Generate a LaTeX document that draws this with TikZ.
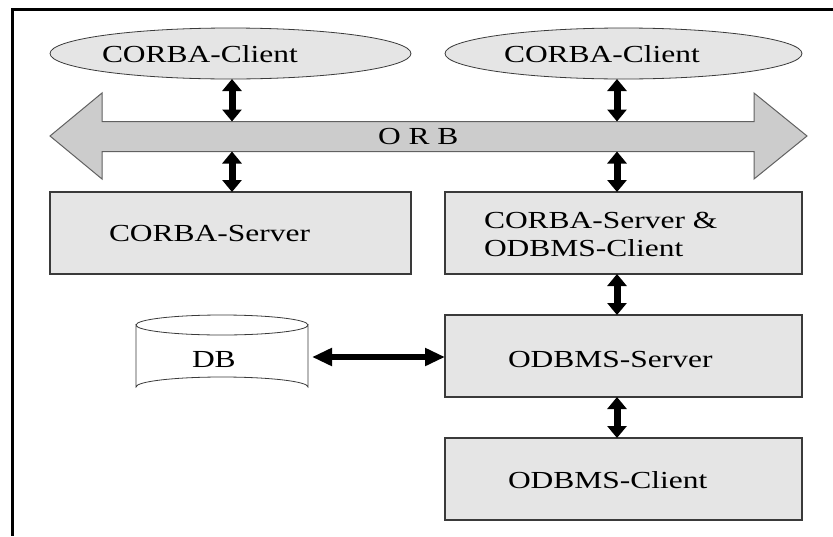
\documentclass[tikz,border=0pt]{standalone}
\usepackage{fontspec}
\setmainfont{Liberation Serif}[FakeStretch=1.285]
\usetikzlibrary{arrows.meta,shapes.geometric}
\definecolor{boxfill}{HTML}{E5E5E5}
\definecolor{orbfill}{HTML}{CCCCCC}
\definecolor{edge}{HTML}{3A3A3A}
\begin{document}
\begin{tikzpicture}[x=1pt,y=-1pt,
  every node/.style={inner sep=0pt,outer sep=0pt},
  txt/.style={anchor=base west,font=\fontsize{24.5pt}{28pt}\selectfont},
  compbox/.style={draw=edge,fill=boxfill,line width=1.3pt,rectangle},
  client/.style={draw=edge,fill=boxfill,line width=0.8pt,ellipse},
  vlink/.style={line width=7pt,{Triangle[length=12pt,width=19pt]}-{Triangle[length=12pt,width=19pt]}},
  hlink/.style={line width=6pt,{Triangle[length=20pt,width=17pt]}-{Triangle[length=20pt,width=17pt]}}]
\useasboundingbox (0,0) rectangle (833,536);

% frame (top and left edges)
\draw[line width=3pt] (11,9.5) -- (833,9.5);
\draw[line width=3pt] (12.5,8) -- (12.5,536);

% clients on top
\node[client,minimum width=361,minimum height=51] (cl1) at (230.5,53.5) {};
\node[client,minimum width=357,minimum height=51] (cl2) at (623.5,53.5) {};
\node[txt] (cl1t) at (102,62) {CORBA-Client};
\node[txt] (cl2t) at (504,62) {CORBA-Client};

% the ORB as a double-headed block arrow
\draw[draw=edge!80,fill=orbfill,line width=1pt]
  (50,136) -- (102,93) -- (102,121.5) -- (754,121.5) -- (754,93) -- (807,136)
  -- (754,179) -- (754,151.5) -- (102,151.5) -- (102,179) -- cycle;
\coordinate (orbTL) at (232,121.5);
\coordinate (orbBL) at (232,151.5);
\coordinate (orbTR) at (617,121.5);
\coordinate (orbBR) at (617,151.5);
\node[txt] (orb) at (378,144) {O R B};

% servers
\node[compbox,minimum width=361,minimum height=82] (cs) at (230.5,233) {};
\node[txt] (cst) at (109,241.5) {CORBA-Server};
\node[compbox,minimum width=357,minimum height=82] (cso) at (623.5,233) {};
\node[txt] (csot1) at (484,228) {CORBA-Server \&};
\node[txt] (csot2) at (484,256) {ODBMS-Client};
\node[compbox,minimum width=357,minimum height=82] (os) at (623.5,356) {};
\node[txt] (ost) at (508,367.5) {ODBMS-Server};
\node[compbox,minimum width=357,minimum height=82] (oc) at (623.5,479) {};
\node[txt] (oct) at (508,488) {ODBMS-Client};

% database cylinder
\draw[draw=edge,fill=white,line width=0.8pt]
  (136,325) -- (136,387) arc[start angle=180,end angle=360,x radius=86,y radius=10]
  -- (308,325) arc[start angle=0,end angle=180,x radius=86,y radius=10] -- cycle;
\draw[draw=edge,line width=0.8pt] (136,325) arc[start angle=180,end angle=360,x radius=86,y radius=10];
\node[txt] (db) at (192,367) {DB};
\coordinate (dbR) at (312,357);

% connectors
\draw[vlink] (cl1.south -| orbTL) -- (orbTL);
\draw[vlink] (orbBL) -- (cs.north -| orbBL);
\draw[vlink] (cl2.south -| orbTR) -- (orbTR);
\draw[vlink] (orbBR) -- (cso.north -| orbBR);
\draw[vlink] (cso.south -| orbBR) -- (os.north -| orbBR);
\draw[vlink] (os.south -| orbBR) -- (oc.north -| orbBR);
\draw[hlink] (dbR) -- (os.west |- dbR);
\end{tikzpicture}
\end{document}
